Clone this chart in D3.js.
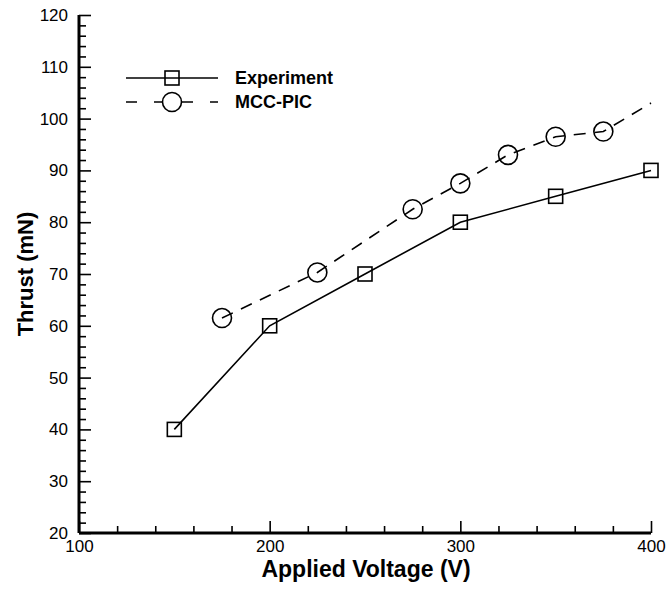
<!DOCTYPE html>
<html>
<head>
<meta charset="utf-8">
<script src="https://cdn.jsdelivr.net/npm/d3@7"></script>
<style>
  html, body { margin: 0; padding: 0; background: #fff; }
  svg { display: block; }
  text { font-family: "Liberation Sans", Arial, Helvetica, sans-serif; fill: #000; }
</style>
</head>
<body>
<svg id="chart" width="670" height="590"></svg>
<script>
// Thrust versus applied voltage
const expVoltage = [150, 200, 250, 300, 350, 400];
const expThrust  = [40, 60, 70, 80, 85, 90];

const picVoltage = [175, 225, 275, 300, 325, 350, 375, 400];
const picThrust  = [61.5, 70.3, 82.5, 87.5, 93, 96.5, 97.5, 103];
// the last simulated point closes the curve without a symbol
const picMarked  = [true, true, true, true, true, true, true, false];

const xMajorTicks = [100, 200, 300, 400];
const yMajorTicks = [20, 30, 40, 50, 60, 70, 80, 90, 100, 110, 120];
const seriesNames = ["Experiment", "MCC-PIC"];

const svg = d3.select("#chart");
const plot = { left: 79, right: 651, top: 15, bottom: 533 };

const x = d3.scaleLinear().domain([100, 400]).range([plot.left, plot.right]);
const y = d3.scaleLinear().domain([20, 120]).range([plot.bottom, plot.top]);

// Axes: ticks point into the plot, minor ticks between the labelled ones
const xMinor = d3.range(100, 401, 20).filter(v => !xMajorTicks.includes(v));
const yMinor = d3.range(20, 121, 2).filter(v => !yMajorTicks.includes(v));

const xAxisG = svg.append("g").attr("transform", `translate(0,${plot.bottom})`);
xAxisG.call(d3.axisBottom(x).tickValues(xMinor).tickSize(-7).tickFormat(""))
  .call(g => g.select(".domain").remove());
xAxisG.append("g").call(d3.axisBottom(x).tickValues(xMajorTicks).tickSize(-12).tickPadding(7).tickFormat(d3.format("d")))
  .call(g => g.select(".domain").remove())
  .call(g => g.selectAll("text").attr("font-size", 17).attr("font-family", "Liberation Sans, Arial, sans-serif").attr("dy", "0.71em"));

const yAxisG = svg.append("g").attr("transform", `translate(${plot.left},0)`);
yAxisG.call(d3.axisLeft(y).tickValues(yMinor).tickSize(-7).tickFormat(""))
  .call(g => g.select(".domain").remove());
yAxisG.append("g").call(d3.axisLeft(y).tickValues(yMajorTicks).tickSize(-12).tickPadding(11).tickFormat(d3.format("d")))
  .call(g => g.select(".domain").remove())
  .call(g => g.selectAll("text").attr("font-size", 17).attr("font-family", "Liberation Sans, Arial, sans-serif"));

svg.selectAll(".tick line").attr("stroke", "#000").attr("stroke-width", 1.6);

// axis spines
svg.append("line").attr("x1", plot.left).attr("x2", plot.right)
  .attr("y1", plot.bottom).attr("y2", plot.bottom)
  .attr("stroke", "#000").attr("stroke-width", 3);
svg.append("line").attr("x1", plot.left).attr("x2", plot.left)
  .attr("y1", plot.top).attr("y2", plot.bottom)
  .attr("stroke", "#000").attr("stroke-width", 3);

// axis titles
svg.append("text").attr("x", (plot.left + plot.right) / 2 + 1).attr("y", 577)
  .attr("text-anchor", "middle").attr("font-size", 23).attr("font-weight", "bold")
  .text("Applied Voltage (V)");
svg.append("text")
  .attr("transform", `translate(33,${(plot.top + plot.bottom) / 2}) rotate(-90)`)
  .attr("text-anchor", "middle").attr("font-size", 22).attr("font-weight", "bold")
  .text("Thrust (mN)");

const line = d3.line().x(d => x(d[0])).y(d => y(d[1]));
const expData = expVoltage.map((v, i) => [v, expThrust[i]]);
const picData = picVoltage.map((v, i) => [v, picThrust[i]]);

svg.append("path").datum(expData).attr("d", line)
  .attr("fill", "none").attr("stroke", "#000").attr("stroke-width", 1.6);
svg.append("path").datum(picData).attr("d", line)
  .attr("fill", "none").attr("stroke", "#000").attr("stroke-width", 1.6)
  .attr("stroke-dasharray", "12,9");

const sq = 14, rad = 9.5;
svg.selectAll(".sq").data(expData).enter().append("rect")
  .attr("x", d => x(d[0]) - sq / 2).attr("y", d => y(d[1]) - sq / 2)
  .attr("width", sq).attr("height", sq)
  .attr("fill", "none").attr("stroke", "#000").attr("stroke-width", 1.6);
svg.selectAll(".circ").data(picData.filter((d, i) => picMarked[i])).enter().append("circle")
  .attr("cx", d => x(d[0])).attr("cy", d => y(d[1])).attr("r", rad)
  .attr("fill", "none").attr("stroke", "#000").attr("stroke-width", 1.6);

// legend
const lg = svg.append("g");
const legY = [78, 102];
lg.append("line").attr("x1", 126).attr("x2", 218).attr("y1", legY[0]).attr("y2", legY[0])
  .attr("stroke", "#000").attr("stroke-width", 1.6);
lg.append("rect").attr("x", 172 - sq / 2).attr("y", legY[0] - sq / 2).attr("width", sq).attr("height", sq)
  .attr("fill", "none").attr("stroke", "#000").attr("stroke-width", 1.6);
lg.append("line").attr("x1", 126).attr("x2", 218).attr("y1", legY[1]).attr("y2", legY[1])
  .attr("stroke", "#000").attr("stroke-width", 1.6).attr("stroke-dasharray", "11,17");
lg.append("circle").attr("cx", 172).attr("cy", legY[1]).attr("r", rad)
  .attr("fill", "#fff").attr("stroke", "#000").attr("stroke-width", 1.6);
lg.selectAll(".lt").data(seriesNames).enter().append("text")
  .attr("x", 235).attr("y", (d, i) => legY[i]).attr("dy", "0.36em")
  .attr("font-size", 18).attr("font-weight", "bold").text(d => d);
</script>
</body>
</html>
